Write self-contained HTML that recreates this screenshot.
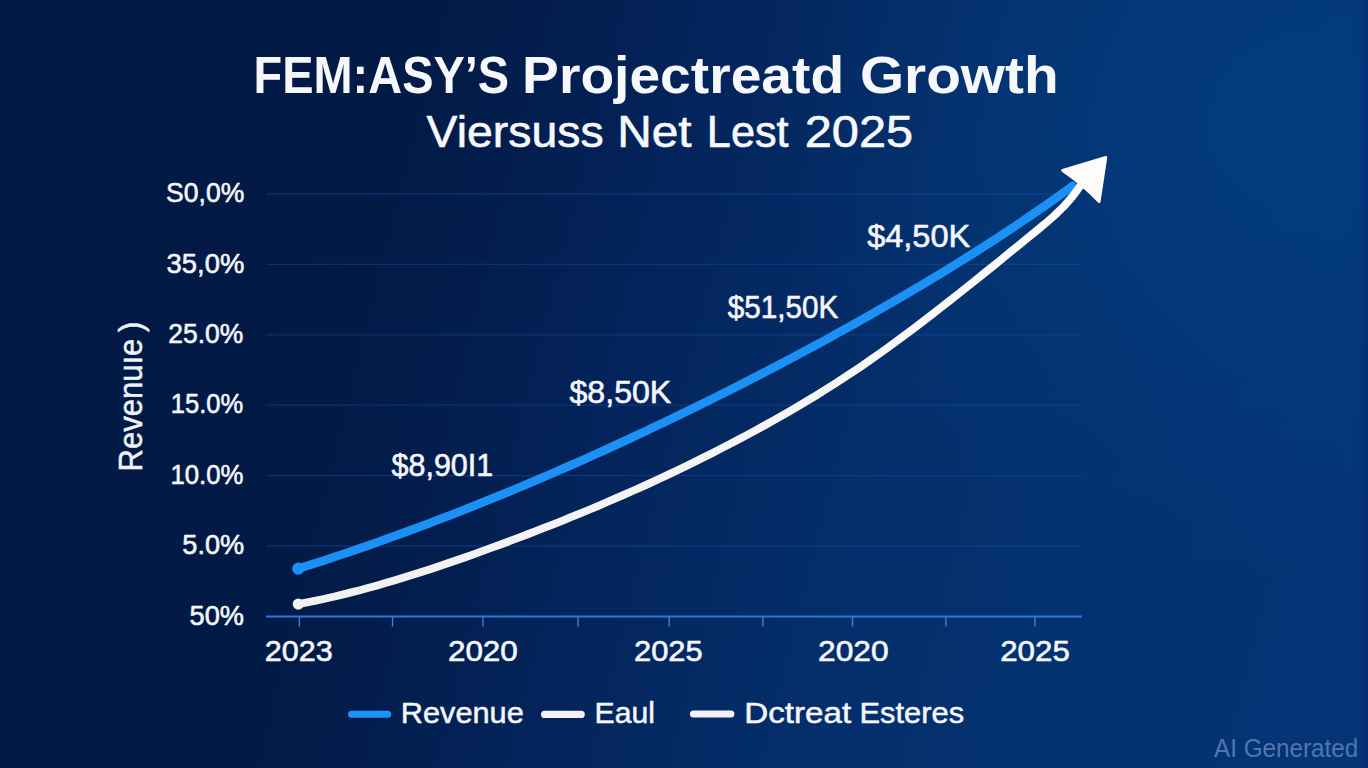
<!DOCTYPE html>
<html><head><meta charset="utf-8"><title>Chart</title>
<style>
html,body{margin:0;padding:0;width:1368px;height:768px;overflow:hidden;background:#021943;}
#bg{position:absolute;left:0;top:0;width:1368px;height:768px;
background:
 linear-gradient(90deg, rgba(2,30,110,0) 1356px, rgba(2,30,110,0.35) 1368px),
 radial-gradient(ellipse 520px 460px at 1290px 120px, rgba(0,84,158,0.30), rgba(0,84,158,0) 100%),
 linear-gradient(104deg,#021943 0%,#021a46 28%,#031f50 37.6%,#03235a 45%,#04275f 51%,#042f6c 65%,#043272 83%,#043577 100%);}
svg{position:absolute;left:0;top:0;}
text{font-family:"Liberation Sans",sans-serif;}
</style></head><body>
<div id="bg"></div>
<svg width="1368" height="768" viewBox="0 0 1368 768">
<defs><linearGradient id="wg" gradientUnits="userSpaceOnUse" x1="298" y1="0" x2="1081" y2="0"><stop offset="0" stop-color="#f1f1ef"/><stop offset="0.6" stop-color="#f6f5f3"/><stop offset="1" stop-color="#fefcfb"/></linearGradient></defs>
<line x1="266" y1="194" x2="1082" y2="194" stroke="#1b56b0" stroke-opacity="0.38" stroke-width="1.3"/>
<line x1="266" y1="264.4" x2="1082" y2="264.4" stroke="#1b56b0" stroke-opacity="0.38" stroke-width="1.3"/>
<line x1="266" y1="334.8" x2="1082" y2="334.8" stroke="#1b56b0" stroke-opacity="0.38" stroke-width="1.3"/>
<line x1="266" y1="405.2" x2="1082" y2="405.2" stroke="#1b56b0" stroke-opacity="0.38" stroke-width="1.3"/>
<line x1="266" y1="475.6" x2="1082" y2="475.6" stroke="#1b56b0" stroke-opacity="0.38" stroke-width="1.3"/>
<line x1="266" y1="546.0" x2="1082" y2="546.0" stroke="#1b56b0" stroke-opacity="0.38" stroke-width="1.3"/>
<line x1="266" y1="616.5" x2="1082" y2="616.5" stroke="#2f77d6" stroke-width="1.8"/>
<line x1="299.4" y1="616.5" x2="299.4" y2="626.5" stroke="#3a80dc" stroke-width="1.4"/>
<line x1="392.5" y1="616.5" x2="392.5" y2="626.5" stroke="#3a80dc" stroke-width="1.4"/>
<line x1="483" y1="616.5" x2="483" y2="626.5" stroke="#3a80dc" stroke-width="1.4"/>
<line x1="578" y1="616.5" x2="578" y2="626.5" stroke="#3a80dc" stroke-width="1.4"/>
<line x1="669.2" y1="616.5" x2="669.2" y2="626.5" stroke="#3a80dc" stroke-width="1.4"/>
<line x1="762.9" y1="616.5" x2="762.9" y2="626.5" stroke="#3a80dc" stroke-width="1.4"/>
<line x1="852.5" y1="616.5" x2="852.5" y2="626.5" stroke="#3a80dc" stroke-width="1.4"/>
<line x1="945.9" y1="616.5" x2="945.9" y2="626.5" stroke="#3a80dc" stroke-width="1.4"/>
<line x1="1034.9" y1="616.5" x2="1034.9" y2="626.5" stroke="#3a80dc" stroke-width="1.4"/>
<path d="M298.3,568.7 L307.0,565.9 L315.7,563.1 L324.4,560.3 L333.1,557.4 L341.8,554.5 L350.5,551.6 L359.2,548.6 L367.9,545.6 L376.6,542.5 L385.3,539.4 L394.0,536.3 L402.7,533.1 L411.4,529.9 L420.1,526.7 L428.8,523.4 L437.5,520.1 L446.2,516.8 L454.9,513.4 L463.6,510.0 L472.3,506.6 L481.0,503.1 L489.7,499.6 L498.4,496.0 L507.1,492.5 L515.8,488.9 L524.5,485.2 L533.2,481.5 L541.9,477.8 L550.6,474.1 L559.3,470.3 L568.0,466.5 L576.7,462.7 L585.4,458.8 L594.1,454.9 L602.8,451.0 L611.5,447.0 L620.2,443.0 L628.9,439.0 L637.6,434.9 L646.3,430.8 L655.0,426.7 L663.7,422.6 L672.4,418.4 L681.1,414.2 L689.9,409.9 L698.6,405.7 L707.3,401.4 L716.0,397.0 L724.7,392.7 L733.4,388.3 L742.1,383.9 L750.8,379.4 L759.5,374.9 L768.2,370.4 L776.9,365.9 L785.6,361.3 L794.3,356.7 L803.0,352.0 L811.7,347.4 L820.4,342.7 L829.1,337.9 L837.8,333.1 L846.5,328.3 L855.2,323.4 L863.9,318.5 L872.6,313.6 L881.3,308.6 L890.0,303.6 L898.7,298.6 L907.4,293.5 L916.1,288.3 L924.8,283.2 L933.5,277.9 L942.2,272.7 L950.9,267.3 L959.6,261.9 L968.3,256.5 L977.0,251.0 L985.7,245.4 L994.4,239.8 L1003.1,234.1 L1011.8,228.4 L1020.5,222.5 L1029.2,216.6 L1037.9,210.6 L1046.6,204.6 L1055.3,198.5 L1064.0,192.2 L1072.7,185.9" fill="none" stroke="#1b91f6" stroke-width="8.6" stroke-linecap="round" stroke-linejoin="round"/>
<circle cx="298.3" cy="568.7" r="6.1" fill="#1b91f6"/>
<path d="M298.3,604.1 L307.1,602.4 L315.9,600.6 L324.7,598.7 L333.5,596.7 L342.3,594.6 L351.1,592.4 L359.9,590.2 L368.7,587.8 L377.4,585.4 L386.2,582.8 L395.0,580.3 L403.8,577.6 L412.6,574.8 L421.4,572.0 L430.2,569.2 L439.0,566.3 L447.8,563.3 L456.6,560.3 L465.4,557.2 L474.2,554.1 L483.0,550.9 L491.8,547.7 L500.6,544.5 L509.4,541.2 L518.2,537.9 L527.0,534.5 L535.7,531.2 L544.5,527.7 L553.3,524.3 L562.1,520.8 L570.9,517.2 L579.7,513.6 L588.5,510.0 L597.3,506.3 L606.1,502.5 L614.9,498.7 L623.7,494.9 L632.5,491.0 L641.3,487.1 L650.1,483.1 L658.9,479.0 L667.7,474.9 L676.5,470.7 L685.3,466.5 L694.0,462.2 L702.8,457.8 L711.6,453.4 L720.4,448.9 L729.2,444.4 L738.0,439.8 L746.8,435.1 L755.6,430.3 L764.4,425.5 L773.2,420.6 L782.0,415.6 L790.8,410.6 L799.6,405.4 L808.4,400.1 L817.2,394.8 L826.0,389.3 L834.8,383.8 L843.6,378.1 L852.3,372.3 L861.1,366.4 L869.9,360.3 L878.7,354.1 L887.5,347.8 L896.3,341.4 L905.1,334.9 L913.9,328.3 L922.7,321.6 L931.5,314.8 L940.3,308.0 L949.1,301.1 L957.9,294.2 L966.7,287.2 L975.5,280.2 L984.3,273.1 L993.1,266.1 L1001.9,259.0 L1010.6,251.8 L1019.4,244.7 L1028.2,237.5 L1037.0,230.4 L1045.8,223.1 L1054.6,215.4 L1063.4,206.8 L1072.2,196.8 L1081.0,185.0" fill="none" stroke="url(#wg)" stroke-width="7.8" stroke-linecap="round" stroke-linejoin="round"/>
<circle cx="298.3" cy="604.1" r="5.6" fill="#f1f1ef"/>
<path d="M1105.8,157.4 L1062.7,170.4 Q1083.5,184.5 1099.1,201.6 Z" fill="#fefcfb" stroke="#fefcfb" stroke-width="3" stroke-linejoin="round"/>
<line x1="351.5" y1="714.2" x2="387.7" y2="714.2" stroke="#1a94f5" stroke-width="7" stroke-linecap="round"/>
<line x1="544.6" y1="714.4" x2="581.2" y2="714.4" stroke="#f3f3f7" stroke-width="7.2" stroke-linecap="round"/>
<line x1="693.5" y1="714" x2="730.8" y2="714" stroke="#f3f3f7" stroke-width="7.2" stroke-linecap="round"/>
<text x="166.07" y="202.1" font-size="28.5" font-weight="400" fill="#f4f6fb" stroke="#f4f6fb" stroke-width="0.6" stroke-linejoin="round" textLength="78.19" lengthAdjust="spacingAndGlyphs" >S0,0%</text>
<text x="166.60" y="273.1" font-size="28.5" font-weight="400" fill="#f4f6fb" stroke="#f4f6fb" stroke-width="0.6" stroke-linejoin="round" textLength="77.67" lengthAdjust="spacingAndGlyphs" >35,0%</text>
<text x="168.28" y="343.2" font-size="28.5" font-weight="400" fill="#f4f6fb" stroke="#f4f6fb" stroke-width="0.6" stroke-linejoin="round" textLength="75.06" lengthAdjust="spacingAndGlyphs" >25.0%</text>
<text x="170.75" y="413.4" font-size="28.5" font-weight="400" fill="#f4f6fb" stroke="#f4f6fb" stroke-width="0.6" stroke-linejoin="round" textLength="72.55" lengthAdjust="spacingAndGlyphs" >15.0%</text>
<text x="170.44" y="483.8" font-size="28.5" font-weight="400" fill="#f4f6fb" stroke="#f4f6fb" stroke-width="0.6" stroke-linejoin="round" textLength="73.08" lengthAdjust="spacingAndGlyphs" >10.0%</text>
<text x="182.31" y="554.4" font-size="28.5" font-weight="400" fill="#f4f6fb" stroke="#f4f6fb" stroke-width="0.6" stroke-linejoin="round" textLength="61.85" lengthAdjust="spacingAndGlyphs" >5.0%</text>
<text x="189.51" y="624.8" font-size="28.5" font-weight="400" fill="#f4f6fb" stroke="#f4f6fb" stroke-width="0.6" stroke-linejoin="round" textLength="54.45" lengthAdjust="spacingAndGlyphs" >50%</text>
<text x="264.77" y="661.4" font-size="29" font-weight="400" fill="#f4f6fb" stroke="#f4f6fb" stroke-width="0.6" stroke-linejoin="round" textLength="67.89" lengthAdjust="spacingAndGlyphs" >2023</text>
<text x="447.93" y="661.4" font-size="29" font-weight="400" fill="#f4f6fb" stroke="#f4f6fb" stroke-width="0.6" stroke-linejoin="round" textLength="69.87" lengthAdjust="spacingAndGlyphs" >2020</text>
<text x="634.06" y="661.4" font-size="29" font-weight="400" fill="#f4f6fb" stroke="#f4f6fb" stroke-width="0.6" stroke-linejoin="round" textLength="68.62" lengthAdjust="spacingAndGlyphs" >2025</text>
<text x="818.12" y="661.4" font-size="29" font-weight="400" fill="#f4f6fb" stroke="#f4f6fb" stroke-width="0.6" stroke-linejoin="round" textLength="70.50" lengthAdjust="spacingAndGlyphs" >2020</text>
<text x="1000.24" y="661.4" font-size="29" font-weight="400" fill="#f4f6fb" stroke="#f4f6fb" stroke-width="0.6" stroke-linejoin="round" textLength="69.56" lengthAdjust="spacingAndGlyphs" >2025</text>
<text x="391.50" y="476.3" font-size="31" font-weight="400" fill="#f4f6fb" stroke="#f4f6fb" stroke-width="0.6" stroke-linejoin="round" textLength="101.72" lengthAdjust="spacingAndGlyphs" >$8,90I1</text>
<text x="569.48" y="402.6" font-size="31" font-weight="400" fill="#f4f6fb" stroke="#f4f6fb" stroke-width="0.6" stroke-linejoin="round" textLength="101.85" lengthAdjust="spacingAndGlyphs" >$8,50K</text>
<text x="727.80" y="317.8" font-size="31" font-weight="400" fill="#f4f6fb" stroke="#f4f6fb" stroke-width="0.6" stroke-linejoin="round" textLength="110.56" lengthAdjust="spacingAndGlyphs" >$51,50K</text>
<text x="867.17" y="246.9" font-size="31" font-weight="400" fill="#f4f6fb" stroke="#f4f6fb" stroke-width="0.6" stroke-linejoin="round" textLength="103.06" lengthAdjust="spacingAndGlyphs" >$4,50K</text>
<text x="400.74" y="722.9" font-size="29.5" font-weight="400" fill="#f4f6fb" stroke="#f4f6fb" stroke-width="0.5" stroke-linejoin="round" textLength="123.08" lengthAdjust="spacingAndGlyphs" >Revenue</text>
<text x="594.59" y="722.9" font-size="29.5" font-weight="400" fill="#f4f6fb" stroke="#f4f6fb" stroke-width="0.5" stroke-linejoin="round" textLength="60.37" lengthAdjust="spacingAndGlyphs" >Eaul</text>
<text x="744.25" y="722.9" font-size="29.5" font-weight="400" fill="#f4f6fb" stroke="#f4f6fb" stroke-width="0.5" stroke-linejoin="round" textLength="106.86" lengthAdjust="spacingAndGlyphs" >Dctreat</text>
<text x="859.53" y="722.9" font-size="29.5" font-weight="400" fill="#f4f6fb" stroke="#f4f6fb" stroke-width="0.5" stroke-linejoin="round" textLength="104.61" lengthAdjust="spacingAndGlyphs" >Esteres</text>
<text x="253.51" y="92.6" font-size="52" font-weight="700" fill="#f7f8fc"  textLength="255.62" lengthAdjust="spacingAndGlyphs" >FEM:ASY’S</text>
<text x="522.14" y="92.6" font-size="52" font-weight="700" fill="#f7f8fc"  textLength="321.97" lengthAdjust="spacingAndGlyphs" >Projectreatd</text>
<text x="859.93" y="92.6" font-size="52" font-weight="700" fill="#f7f8fc"  textLength="198.65" lengthAdjust="spacingAndGlyphs" >Growth</text>
<text x="426.64" y="146.5" font-size="44" font-weight="400" fill="#f7f8fc" stroke="#f7f8fc" stroke-width="0.6" stroke-linejoin="round" textLength="177.05" lengthAdjust="spacingAndGlyphs" >Viersuss</text>
<text x="617.17" y="146.5" font-size="44" font-weight="400" fill="#f7f8fc" stroke="#f7f8fc" stroke-width="0.6" stroke-linejoin="round" textLength="74.42" lengthAdjust="spacingAndGlyphs" >Net</text>
<text x="706.84" y="146.5" font-size="44" font-weight="400" fill="#f7f8fc" stroke="#f7f8fc" stroke-width="0.6" stroke-linejoin="round" textLength="81.80" lengthAdjust="spacingAndGlyphs" >Lest</text>
<text x="804.76" y="146.5" font-size="44" font-weight="400" fill="#f7f8fc" stroke="#f7f8fc" stroke-width="0.6" stroke-linejoin="round" textLength="108.41" lengthAdjust="spacingAndGlyphs" >2025</text>
<text x="1214.00" y="757" font-size="25.4" font-weight="400" fill="#5275ae"  textLength="144.26" lengthAdjust="spacingAndGlyphs" >AI Generated</text>
<text x="-2.48" y="0" font-size="33" font-weight="400" fill="#eef1f8" stroke="#eef1f8" stroke-width="0.5" stroke-linejoin="round" textLength="132.85" lengthAdjust="spacingAndGlyphs" transform="translate(141.5 469) rotate(-90)">Revenuıe</text>
<text x="136.68" y="0" font-size="33" font-weight="400" fill="#eef1f8" stroke="#eef1f8" stroke-width="0.5" stroke-linejoin="round" textLength="10.63" lengthAdjust="spacingAndGlyphs" transform="translate(141.5 469) rotate(-90)">)</text>
</svg>
</body></html>
